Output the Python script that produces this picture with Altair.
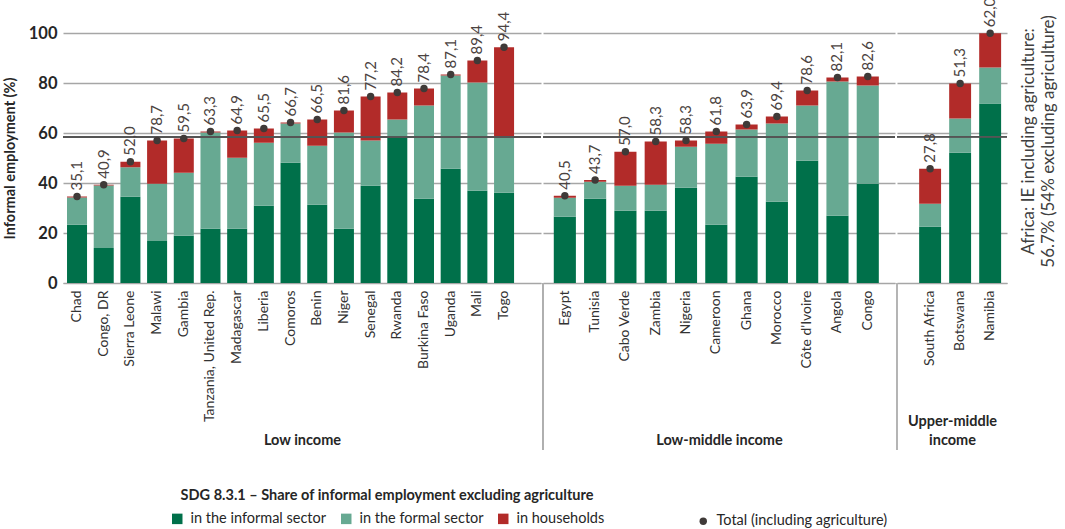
import altair as alt
import pandas as pd

# ---------------- data ----------------
low_countries = ["Chad", "Congo, DR", "Sierra Leone", "Malawi", "Gambia",
                 "Tanzania, United Rep.", "Madagascar", "Liberia", "Comoros",
                 "Benin", "Niger", "Senegal", "Rwanda", "Burkina Faso",
                 "Uganda", "Mali", "Togo"]
low_informal = [23.3, 14.0, 34.5, 16.8, 18.9, 21.7, 21.7, 30.9, 48.1, 31.3,
                21.7, 38.9, 58.6, 33.7, 45.7, 36.9, 36.1]
low_formal = [10.9, 25.0, 11.8, 22.9, 25.2, 38.5, 28.4, 25.2, 15.7, 23.6,
              38.5, 18.1, 6.8, 37.3, 37.3, 43.3, 22.1]
low_households = [0.4, 0.3, 2.2, 17.3, 13.7, 0.4, 10.9, 5.7, 0.4, 10.5,
                  8.8, 17.6, 10.8, 6.8, 0.4, 8.8, 36.1]
low_total_incl_agri = [35.1, 40.9, 52.0, 78.7, 59.5, 63.3, 64.9, 65.5, 66.7,
                       66.5, 81.6, 77.2, 84.2, 78.4, 87.1, 89.4, 94.4]

lm_countries = ["Egypt", "Tunisia", "Cabo Verde", "Zambia", "Nigeria",
                "Cameroon", "Ghana", "Morocco", "Côte d'Ivoire", "Angola",
                "Congo"]
lm_informal = [26.5, 33.7, 28.9, 28.9, 38.1, 23.3, 42.5, 32.5, 48.9, 26.9, 39.7]
lm_formal = [7.6, 6.8, 10.0, 10.4, 16.4, 32.4, 18.9, 31.3, 22.1, 53.7, 39.3]
lm_households = [0.8, 0.7, 13.6, 17.3, 2.5, 4.9, 2.0, 2.8, 6.0, 1.6, 3.6]
lm_total_incl_agri = [40.5, 43.7, 57.0, 58.3, 58.3, 61.8, 63.9, 69.4, 78.6,
                      82.1, 82.6]

um_countries = ["South Africa", "Botswana", "Namibia"]
um_informal = [22.5, 52.1, 71.8]
um_formal = [9.2, 13.7, 14.4]
um_households = [14.0, 14.0, 13.7]
um_total_incl_agri = [27.8, 51.3, 62.0]

components = ["in the informal sector", "in the formal sector", "in households"]
colors = ["#00704a", "#67a992", "#b22b29"]
africa_line = 58.5
total_label = "Total (including agriculture)"
y_ticks = [0, 20, 40, 60, 80, 100]

FONT = "Lato"


def long_df(countries, informal, formal, households):
    rows = []
    for c, a, b, h in zip(countries, informal, formal, households):
        for k, (name, v) in enumerate(zip(components, (a, b, h))):
            rows.append({"country": c, "component": name, "ord": k, "value": v})
    return pd.DataFrame(rows)


def dot_df(countries, informal, formal, households, totals):
    return pd.DataFrame({
        "country": countries,
        "top": [a + b + h for a, b, h in zip(informal, formal, households)],
        "label": [f"{t:.1f}".replace(".", ",") for t in totals],
        "kind": [total_label] * len(countries),
    })


def panel(countries, informal, formal, households, totals, width, title,
          p_inner, p_outer, align, first=False, last=False, title_y=150):
    bars_df = long_df(countries, informal, formal, households)
    dots = dot_df(countries, informal, formal, households, totals)

    xscale = alt.Scale(paddingInner=p_inner, paddingOuter=p_outer, align=align)
    xaxis = alt.Axis(title=title, labelAngle=270, labelAlign="right",
                     labelBaseline="middle", labelPadding=7, labelFontSize=14,
                     labelColor="#333333", labelFont=FONT, ticks=False,
                     domainColor="#a6a6a6", domainWidth=1.2, labelOverlap=False,
                     titleFont=FONT, titleFontSize=14.5, titleFontWeight="bold",
                     titleColor="#262626", titleY=title_y, titleBaseline="top",
                     titleLineHeight=19)
    x = alt.X("country:N", sort=countries, scale=xscale, axis=xaxis)

    yscale = alt.Scale(domain=[0, 100], nice=False)
    if first:
        yaxis = alt.Axis(values=y_ticks, title="Informal employment (%)",
                         labelFont=FONT, labelFontSize=16.5, labelFontWeight="bold",
                         labelColor="#262626", labelPadding=6, ticks=False,
                         domain=False, gridColor="#a6a6a6", gridWidth=1.3,
                         titleFont=FONT, titleFontSize=14.5, titleFontWeight="bold",
                         titleColor="#262626", titlePadding=11)
    elif last:
        yaxis = alt.Axis(values=y_ticks, orient="right", labels=False,
                         ticks=False, domain=False, gridColor="#a6a6a6",
                         gridWidth=1.3,
                         title=["Africa: IE including agriculture:",
                                "56.7% (54% excluding agriculture)"],
                         titleAngle=270, titleFont=FONT, titleFontSize=17,
                         titleFontWeight="normal", titleColor="#404040",
                         titlePadding=10, titleY=108, titleLineHeight=20)
    else:
        yaxis = alt.Axis(values=y_ticks, labels=False, ticks=False,
                         domain=False, title=None, gridColor="#a6a6a6",
                         gridWidth=1.3)

    bars = alt.Chart(bars_df).mark_bar().encode(
        x=x,
        y=alt.Y("value:Q", stack="zero", scale=yscale, axis=yaxis),
        color=alt.Color("component:N",
                        scale=alt.Scale(domain=components, range=colors),
                        legend=alt.Legend(
                            title="SDG 8.3.1 – Share of informal employment excluding agriculture",
                            orient="none", legendX=107, legendY=456,
                            direction="horizontal", titleAnchor="middle",
                            titleFont=FONT, titleFontSize=14.5,
                            titleFontWeight="bold", titleColor="#262626",
                            titlePadding=8, titleLimit=900,
                            labelFont=FONT, labelFontSize=14.5,
                            labelColor="#262626", labelLimit=400,
                            symbolType="square",
                            symbolSize=110, symbolStrokeWidth=0,
                            columnPadding=12, labelOffset=6)),
        order=alt.Order("ord:Q", sort="ascending"),
    )

    ref = alt.Chart(dots).mark_rule(color="#555555", strokeWidth=1.6).encode(
        y=alt.datum(africa_line, type="quantitative")
    )

    pts = alt.Chart(dots).mark_point(filled=True, color="#3f3a38", opacity=1,
                                     size=55).encode(
        x=alt.X("country:N", sort=countries),
        y=alt.Y("top:Q"),
        shape=alt.Shape("kind:N", scale=alt.Scale(domain=[total_label],
                                                  range=["circle"]),
                        legend=alt.Legend(title=None, orient="none",
                                          legendX=633, legendY=481,
                                          labelFont=FONT, labelFontSize=14.5,
                                          labelColor="#262626", labelLimit=400,
                                          symbolFillColor="#3f3a38",
                                          symbolStrokeWidth=0,
                                          symbolSize=55, labelOffset=6)),
    )

    txt = alt.Chart(dots).mark_text(angle=270, align="left", baseline="middle",
                                    dx=6, font=FONT, fontSize=15,
                                    color="#4b4341").encode(
        x=alt.X("country:N", sort=countries),
        y=alt.Y("top:Q"),
        text="label:N",
    )

    layers = [bars, ref, pts, txt]
    if not first:
        sep = alt.Chart(dots).mark_rule(color="#b0b0b0", strokeWidth=1.2).encode(
            x=alt.value(0), y=alt.value(250), y2=alt.value(417)
        )
        layers.append(sep)

    return alt.layer(*layers).properties(width=width, height=250)


p1 = panel(low_countries, low_informal, low_formal, low_households,
           low_total_incl_agri, 478, "Low income", 0.25, 0.58, 0.13, first=True)
p2 = panel(lm_countries, lm_informal, lm_formal, lm_households,
           lm_total_incl_agri, 352, "Low-middle income", 0.27, 0.445, 0.4)
p3 = panel(um_countries, um_informal, um_formal, um_households,
           um_total_incl_agri, 110, ["Upper-middle", "income"], 0.27, 0.467,
           0.79, last=True, title_y=131)

chart = alt.hconcat(p1, p2, p3, spacing=0).resolve_scale(
    color="shared", shape="shared"
).properties(
    padding={"left": 2, "top": -3, "right": 2, "bottom": 0},
    background="white",
).configure_view(stroke=None)

chart.save("out.html", embed_options={"renderer": "svg", "actions": False})
